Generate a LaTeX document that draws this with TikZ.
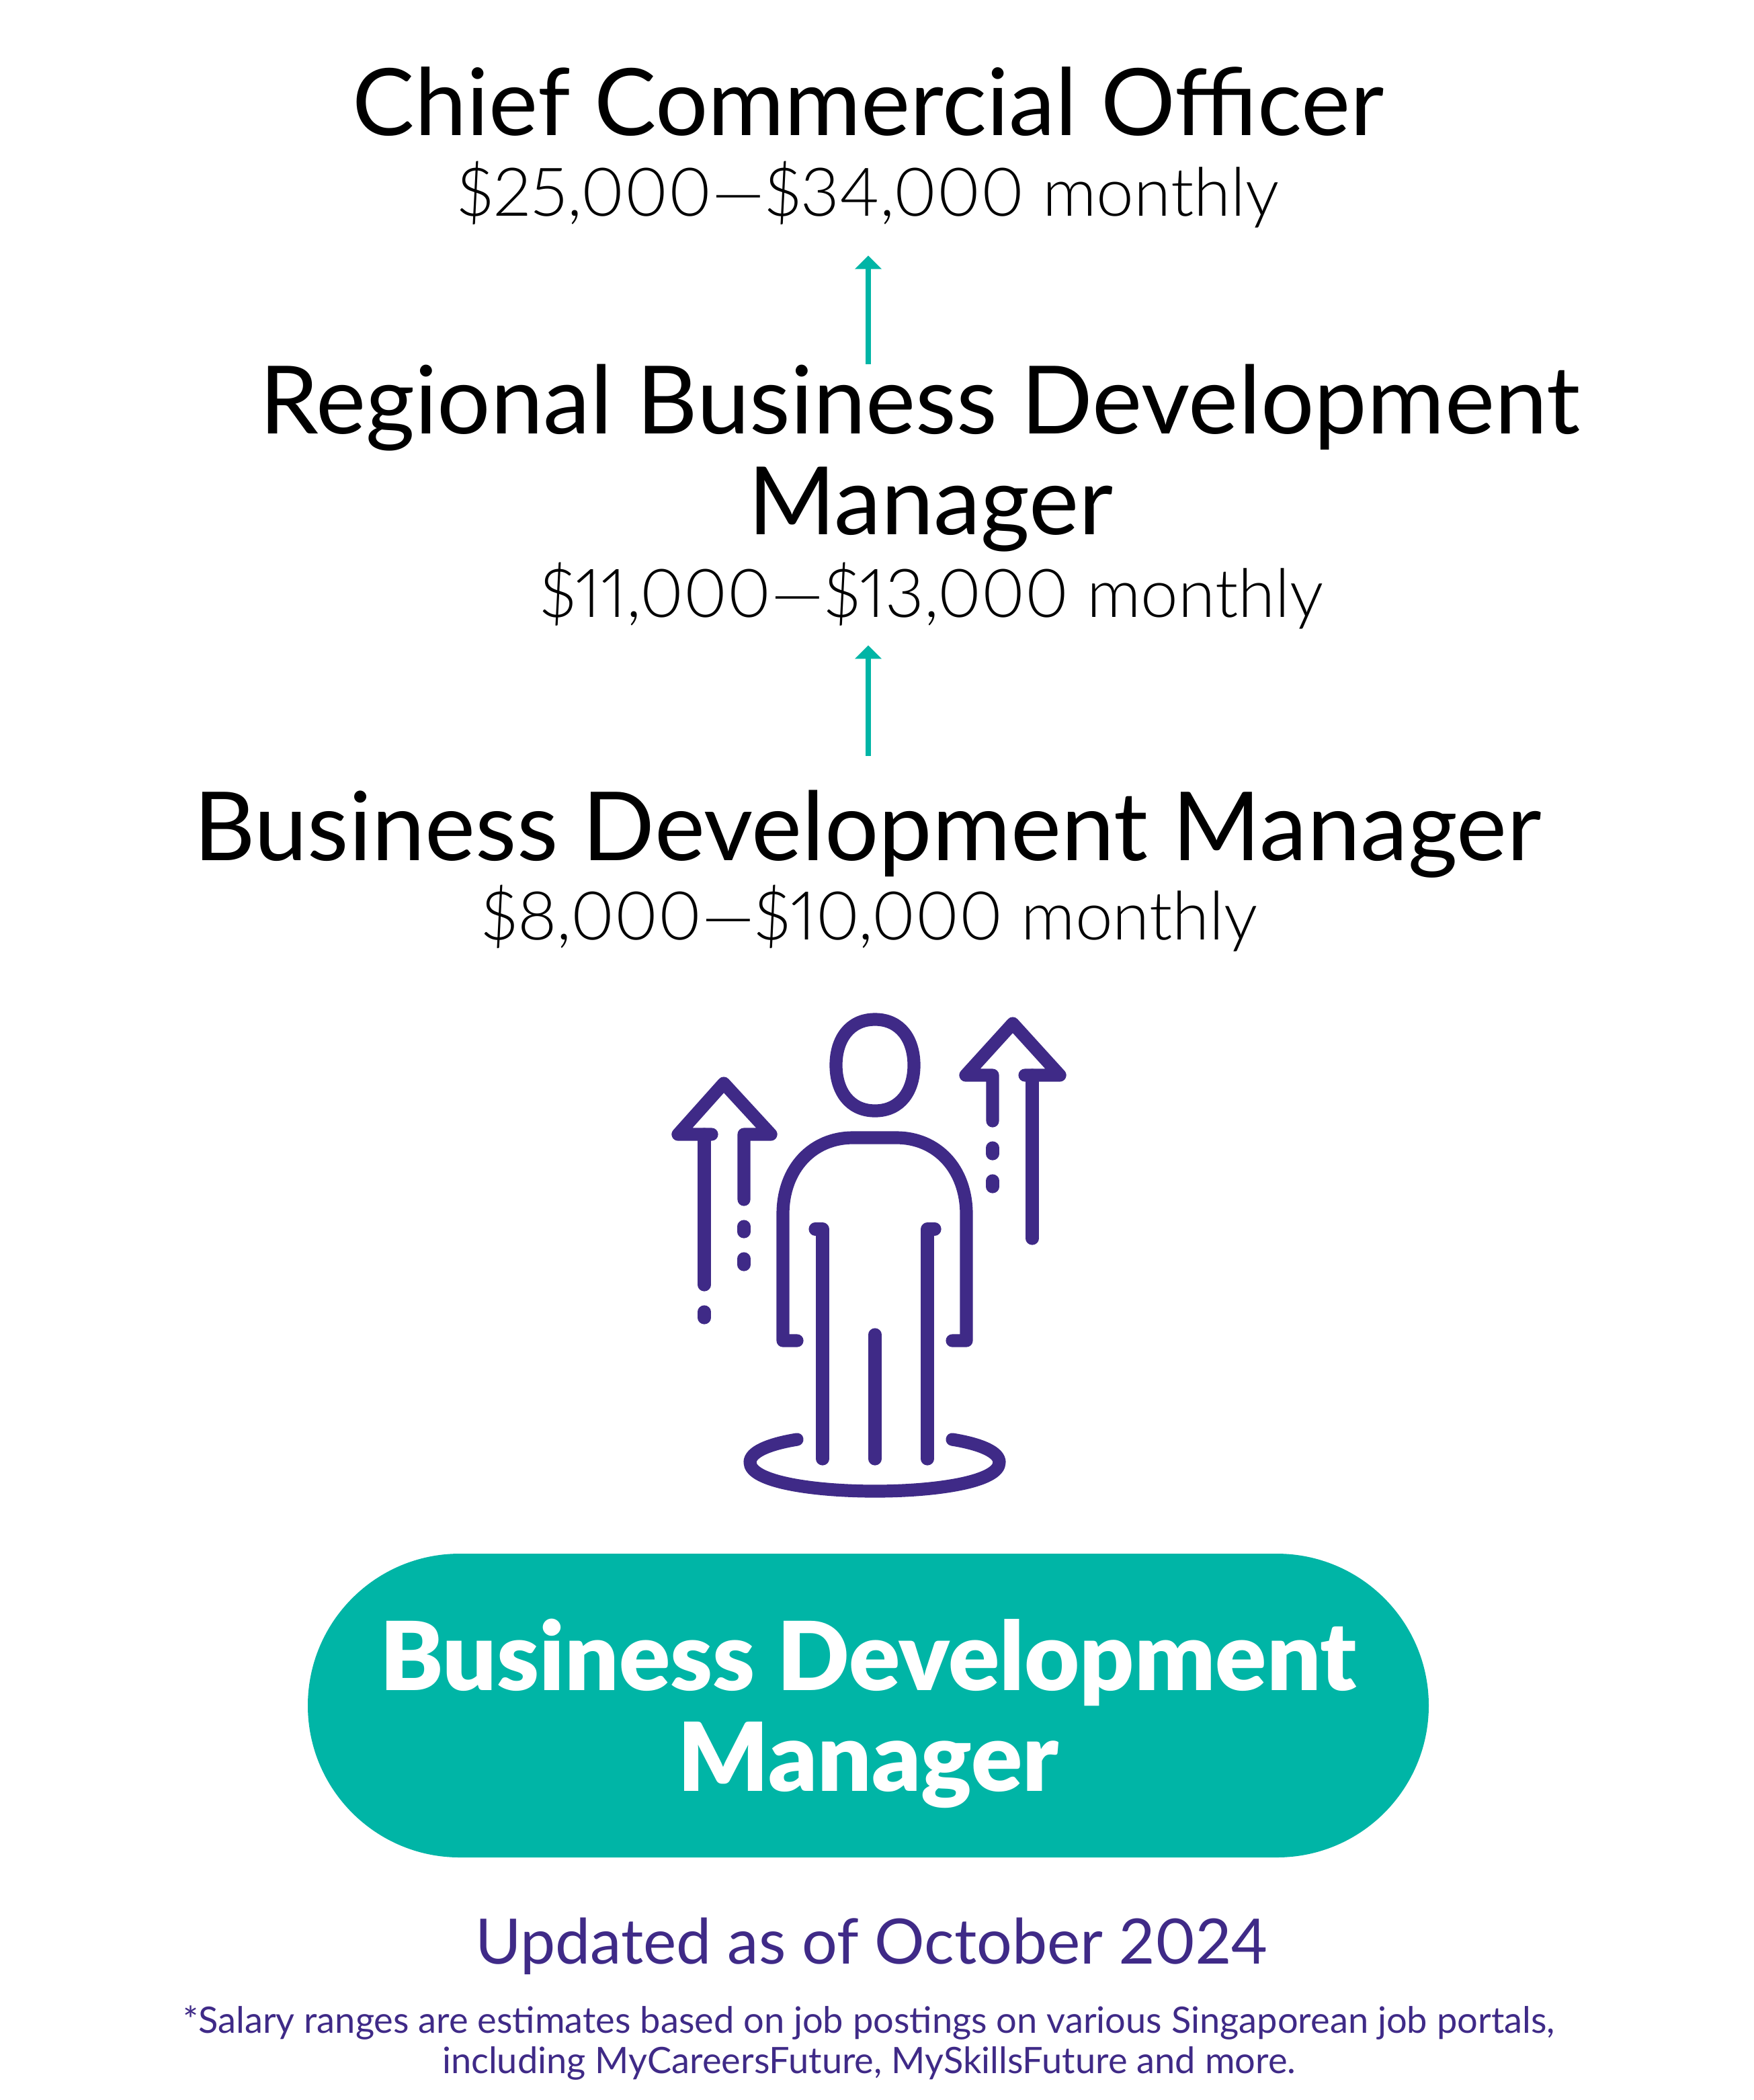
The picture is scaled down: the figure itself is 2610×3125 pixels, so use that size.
\documentclass[tikz,border=0pt]{standalone}
\usepackage{fontspec}
\setmainfont{Lato}[Numbers=Proportional]
\newfontfamily\lightfont{Lato Light}[Numbers=Proportional]
\newfontfamily\heavyfont{Lato Black}[Numbers=Proportional]
\usetikzlibrary{arrows.meta}
\definecolor{mateteal}{HTML}{00B5A6}
\definecolor{iconpurple}{HTML}{3F2A87}
\tikzset{%
  role/.style={anchor=base, inner sep=0pt, align=center},
  pay/.style={anchor=base, inner sep=0pt, font=\lightfont\fontsize{25}{30}\selectfont},
  lift/.style={draw=mateteal, line width=2pt, -{Triangle[length=5pt, width=9.75pt]}},
  icon/.style={draw=iconpurple, line width=4.8pt, line cap=round, line join=round},
  pill/.style={fill=mateteal, rounded corners=56.5pt, minimum width=417pt, minimum height=113pt, inner sep=0pt},
  pilltext/.style={anchor=center, inner sep=0pt, align=center, text=white, font=\heavyfont\fontsize{35.4}{37.5}\selectfont},
  note/.style={anchor=center, inner sep=0pt, align=center, text=iconpurple},
}

\begin{document}
\begin{tikzpicture}[x=0.25pt, y=-0.25pt]

    \useasboundingbox (0,0) rectangle (2610,3125);

    % job ladder
    \node [role, font=\fontsize{34.6}{37.5}\selectfont] (chief) at (1292,202) {Chief Commercial Officer};
    \node [pay] (chiefpay) at (1292,322) {\$25,000—\$34,000 monthly};
    \node [role, anchor=center, font=\fontsize{35.1}{37.5}\selectfont] (regional) at (1385,682) {Regional Business Development\kern8pt\mbox{}\\Manager};
    \node [pay] (regionalpay) at (1386,918) {\$11,000—\$13,000 monthly};
    \node [role, font=\fontsize{35.5}{37.5}\selectfont] (manager) at (1291,1280) {Business Development Manager};
    \node [pay] (managerpay) at (1294,1398) {\$8,000—\$10,000 monthly};

    \draw [lift, shorten <=0pt, shorten >=10pt] (regional.north -| chiefpay.south) -- (chiefpay.south);
    \draw [lift, shorten <=12.5pt, shorten >=6pt] (manager.north -| chiefpay.south) -- (regionalpay.south -| chiefpay.south);

    \begin{scope}[shift={(-5,-7)}]
    % head and body
    \draw [icon] (1307,1524) .. controls (1345,1524) and (1365,1554) .. (1365,1592)
        .. controls (1365,1630) and (1345,1660) .. (1307,1660)
        .. controls (1269,1660) and (1249,1630) .. (1249,1592)
        .. controls (1249,1554) and (1269,1524) .. (1307,1524) -- cycle;
    \draw [icon] (1191,2002) -- (1170,2002) -- (1170,1814)
        .. controls (1170,1745) and (1215,1700) .. (1274,1700)
        -- (1339,1700) .. controls (1398,1700) and (1443,1745) .. (1443,1814)
        -- (1443,2002) -- (1422,2002);
    \draw [icon] (1218,1836) -- (1229,1836) -- (1229,2178);
    \draw [icon] (1396,1836) -- (1385,1836) -- (1385,2178);
    \draw [icon] (1307,1993) -- (1307,2178);
    \draw [icon] (1191,2149) .. controls (1148,2156) and (1121,2168) .. (1121,2183)
        .. controls (1121,2212) and (1215,2226) .. (1307,2226)
        .. controls (1399,2226) and (1492,2212) .. (1492,2183)
        .. controls (1492,2168) and (1465,2156) .. (1422,2149);

    % small arrows
    \draw [icon] (1053,1919) -- (1053,1695);
    \draw [icon] (1064,1695) -- (1014,1695) -- (1082,1619) -- (1152,1695) -- (1112,1695) -- (1112,1792);
    \draw [icon] (1482,1675) -- (1482,1607) -- (1442,1607) -- (1512,1530) -- (1582,1607) -- (1530,1607);
    \draw [icon] (1541,1607) -- (1541,1850);
    \foreach \x/\a/\b in {1112/1832/1840, 1112/1880/1889, 1053/1959/1968, 1482/1715/1724, 1482/1764/1773}
        \draw [icon] (\x,\a) -- (\x,\b);
    \end{scope}

    % job title
    \node [pill] (badge) at (1292,2538) {};
    \node [pilltext] (badgetext) at (1292,2550) {Business Development\\Manager};

    % footer
    \node [note, font=\fontsize{23.3}{27}\selectfont] (updated) at (1297,2896) {Updated as of October 2024};
    \node [note, font=\fontsize{13.55}{15}\selectfont] (source) at (1293,3040) {*Salary ranges are estimates based on job postings on various Singaporean job portals,\\including MyCareersFuture, MySkillsFuture and more.};

\end{tikzpicture}
\end{document}
